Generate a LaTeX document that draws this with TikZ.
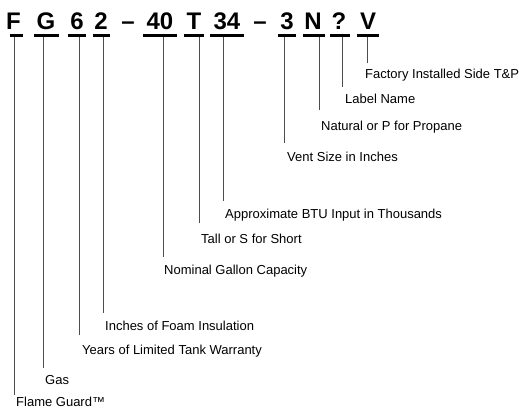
\documentclass[tikz,border=0pt]{standalone}
\usepackage{fontspec}
\setmainfont{Liberation Sans}
\begin{document}
\begin{tikzpicture}[x=1pt,y=-1pt,
  code/.style={font=\fontsize{24}{24}\selectfont\bfseries, inner sep=0pt, anchor=base},
  lbl/.style={font=\fontsize{13}{13}\selectfont, inner sep=0pt, anchor=base west},
  ubar/.style={line width=3pt},
  leader/.style={line width=1pt, black!70}]
\useasboundingbox[fill=white] (0,0) rectangle (519,409);
% code letters
\node[code] (cF) at (13.5,30) {F};
\node[code] (cG) at (46,30) {G};
\node[code] (c6) at (77,30) {6};
\node[code] (c2) at (101,30) {2};
\node[code] (d1) at (128,30) {–};
\node[code] (c40) at (160,30) {40};
\node[code] (cT) at (194,30) {T};
\node[code] (c34) at (227,30) {34};
\node[code] (d2) at (260,30) {–};
\node[code] (c3) at (287,30) {3};
\node[code] (cN) at (313,30) {N};
\node[code] (cQ) at (339,30) {?};
\node[code] (cV) at (368,30) {V};
% underbars
\draw[ubar] (10,35.5) -- (23,35.5);
\draw[ubar] (34,35.5) -- (59,35.5);
\draw[ubar] (68,35.5) -- (86,35.5);
\draw[ubar] (93,35.5) -- (110,35.5);
\draw[ubar] (143,35.5) -- (177,35.5);
\draw[ubar] (184,35.5) -- (204,35.5);
\draw[ubar] (210,35.5) -- (244,35.5);
\draw[ubar] (278,35.5) -- (296,35.5);
\draw[ubar] (303,35.5) -- (325,35.5);
\draw[ubar] (330,35.5) -- (350,35.5);
\draw[ubar] (357,35.5) -- (379,35.5);
% leader tops
\coordinate (tF) at (14,37);
\coordinate (tG) at (43,37);
\coordinate (t6) at (79,37);
\coordinate (t2) at (103,37);
\coordinate (t40) at (163,37);
\coordinate (tT) at (199,37);
\coordinate (t34) at (223,37);
\coordinate (t3) at (284,37);
\coordinate (tN) at (319,37);
\coordinate (tQ) at (342,37);
\coordinate (tV) at (367,37);
% labels
\node[lbl] (lF) at (16,406) {Flame Guard™};
\node[lbl] (lG) at (45,384) {Gas};
\node[lbl] (l6) at (82,354) {Years of Limited Tank Warranty};
\node[lbl] (l2) at (105,330) {Inches of Foam Insulation};
\node[lbl] (l40) at (164,274) {Nominal Gallon Capacity};
\node[lbl] (lT) at (201,243) {Tall or S for Short};
\node[lbl] (l34) at (225,218) {Approximate BTU Input in Thousands};
\node[lbl] (l3) at (287,161) {Vent Size in Inches};
\node[lbl] (lN) at (321,131) {Natural or P for Propane};
\node[lbl] (lQ) at (345,103) {Label Name};
\node[lbl] (lV) at (365,79) {Factory Installed Side T\&P};
% leaders
\draw[leader] (tF) -- (tF |- 0,395);
\draw[leader] (tG) -- (tG |- 0,368);
\draw[leader] (t6) -- (t6 |- 0,335);
\draw[leader] (t2) -- (t2 |- 0,313);
\draw[leader] (t40) -- (t40 |- 0,257);
\draw[leader] (tT) -- (tT |- 0,223);
\draw[leader] (t34) -- (t34 |- 0,201);
\draw[leader] (t3) -- (t3 |- 0,143);
\draw[leader] (tN) -- (tN |- 0,110);
\draw[leader] (tQ) -- (tQ |- 0,87);
\draw[leader] (tV) -- (tV |- 0,63);
\end{tikzpicture}
\end{document}
